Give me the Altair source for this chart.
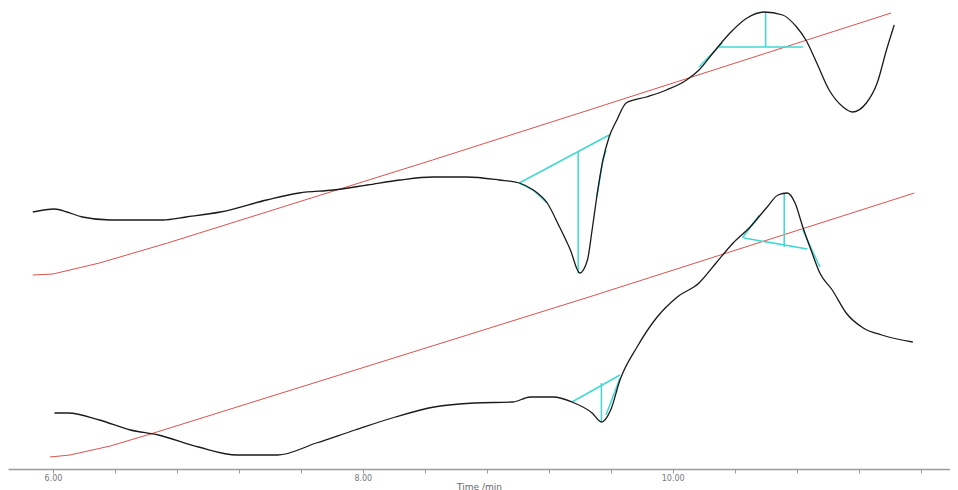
import altair as alt
import pandas as pd

# ---- data (time in min, signal in arbitrary units) ----
upper_t = [5.87, 6.01, 6.09, 6.19, 6.37, 6.71, 6.86, 7.08, 7.38, 7.59, 7.81, 8.03, 8.24, 8.45,
           8.67, 8.88, 9.01, 9.10, 9.19, 9.27, 9.34, 9.40, 9.45, 9.48, 9.51, 9.55, 9.59, 9.64,
           9.70, 9.83, 9.96, 10.09, 10.17, 10.26, 10.37, 10.48, 10.59, 10.71, 10.80, 10.86,
           10.93, 11.01, 11.10, 11.16, 11.25, 11.32, 11.38, 11.43]
upper_s = [257, 260, 257, 252, 249, 249, 252, 257, 269, 276, 279, 284, 289, 292,
           292, 289, 286, 279, 266, 242, 219, 196, 209, 239, 272, 309, 332, 349,
           366, 372, 379, 389, 399, 416, 436, 451, 457, 454, 442, 429,
           406, 379, 362, 357, 366, 386, 419, 444]

lower_t = [6.01, 6.10, 6.30, 6.50, 6.68, 6.94, 7.19, 7.45, 7.70, 7.95, 8.21, 8.46, 8.72, 8.97,
           9.08, 9.23, 9.35, 9.48, 9.54, 9.60, 9.66, 9.77, 9.90, 10.03, 10.17, 10.28, 10.39,
           10.50, 10.61, 10.68, 10.74, 10.79, 10.84, 10.90, 10.95, 11.03, 11.12, 11.23, 11.35, 11.55]
lower_s = [56, 56, 49, 39, 34, 22, 14, 14, 26, 39, 52, 62, 66, 67,
           72, 72, 67, 56, 47, 59, 89, 122, 152, 172, 186, 206, 226,
           242, 262, 274, 276, 266, 242, 216, 196, 179, 156, 141, 134, 127]

base_upper_t = [5.87, 6.00, 6.30, 6.74, 8.45, 9.46, 11.41]
base_upper_s = [194, 195, 206, 226, 309, 359, 456]
base_lower_t = [5.98, 6.11, 6.37, 6.63, 9.46, 11.56]
base_lower_s = [12, 14, 23, 35, 172, 276]

# cyan construction segments: (times, signals)
cyan_segments = [
    ([9.01, 9.59], [286, 334]),
    ([9.39, 9.39], [317, 196]),
    ([9.01, 9.10, 9.19], [286, 279, 266]),
    ([9.51, 9.55, 9.57], [272, 309, 319]),
    ([10.30, 10.84], [422, 422]),
    ([10.60, 10.60], [457, 422]),
    ([10.17, 10.32], [402, 426]),
    ([9.35, 9.66], [67, 94]),
    ([9.54, 9.54], [86, 47]),
    ([9.57, 9.66], [54, 91]),
    ([10.46, 10.87], [231, 220]),
    ([10.72, 10.72], [276, 222]),
    ([10.45, 10.56], [231, 254]),
    ([10.84, 10.95], [239, 202]),
]

tick_values = [6.0, 6.4, 6.8, 7.2, 7.6, 8.0, 8.4, 8.8, 9.2, 9.6, 10.0, 10.4, 10.8, 11.2, 11.6]

# ---- build tables ----
curves = pd.concat([
    pd.DataFrame({"t": upper_t, "s": upper_s, "seg": "upper"}),
    pd.DataFrame({"t": lower_t, "s": lower_s, "seg": "lower"}),
])
curves["o"] = range(len(curves))
bases = pd.concat([
    pd.DataFrame({"t": base_upper_t, "s": base_upper_s, "seg": "bu"}),
    pd.DataFrame({"t": base_lower_t, "s": base_lower_s, "seg": "bl"}),
])
bases["o"] = range(len(bases))
cy = []
for i, (ts, ss) in enumerate(cyan_segments):
    for t, s in zip(ts, ss):
        cy.append({"t": t, "s": s, "seg": f"c{i}"})
cyan = pd.DataFrame(cy)
cyan["o"] = range(len(cyan))

xscale = alt.Scale(domain=[5.71, 11.79], nice=False, zero=False)
yscale = alt.Scale(domain=[0, 461], nice=False, zero=False)

xaxis = alt.Axis(
    title="Time /min", values=tick_values,
    labelExpr="abs(datum.value - round(datum.value/2)*2) < 0.01 ? format(datum.value, '.2f') : ''",
    grid=False, domainColor="#9a9a9a", domainWidth=1.5, tickColor="#9a9a9a", tickWidth=1,
    tickSize=4, labelFontSize=8, labelColor="#777777", labelPadding=1, labelFont="DejaVu Sans",
    titleFontSize=9, titleColor="#666666", titleFont="DejaVu Sans", titleFontWeight="normal",
    titlePadding=0,
)

def enc():
    return dict(
        x=alt.X("t:Q", scale=xscale, axis=xaxis),
        y=alt.Y("s:Q", scale=yscale, axis=None),
        detail="seg:N",
        order="o:Q",
    )

red = alt.Chart(bases).mark_line(color="#d9534f", strokeWidth=1).encode(**enc())
cyl = alt.Chart(cyan).mark_line(color="#3fd8d2", strokeWidth=1.5).encode(**enc())
blk = alt.Chart(curves).mark_line(color="#1a1a1a", strokeWidth=1.3,
                                  interpolate="monotone").encode(**enc())

chart = alt.layer(red, cyl, blk).properties(
    width=942, height=461, padding=0
).configure_view(stroke=None)

chart.save("out.html", embed_options={"renderer": "svg", "actions": False})
